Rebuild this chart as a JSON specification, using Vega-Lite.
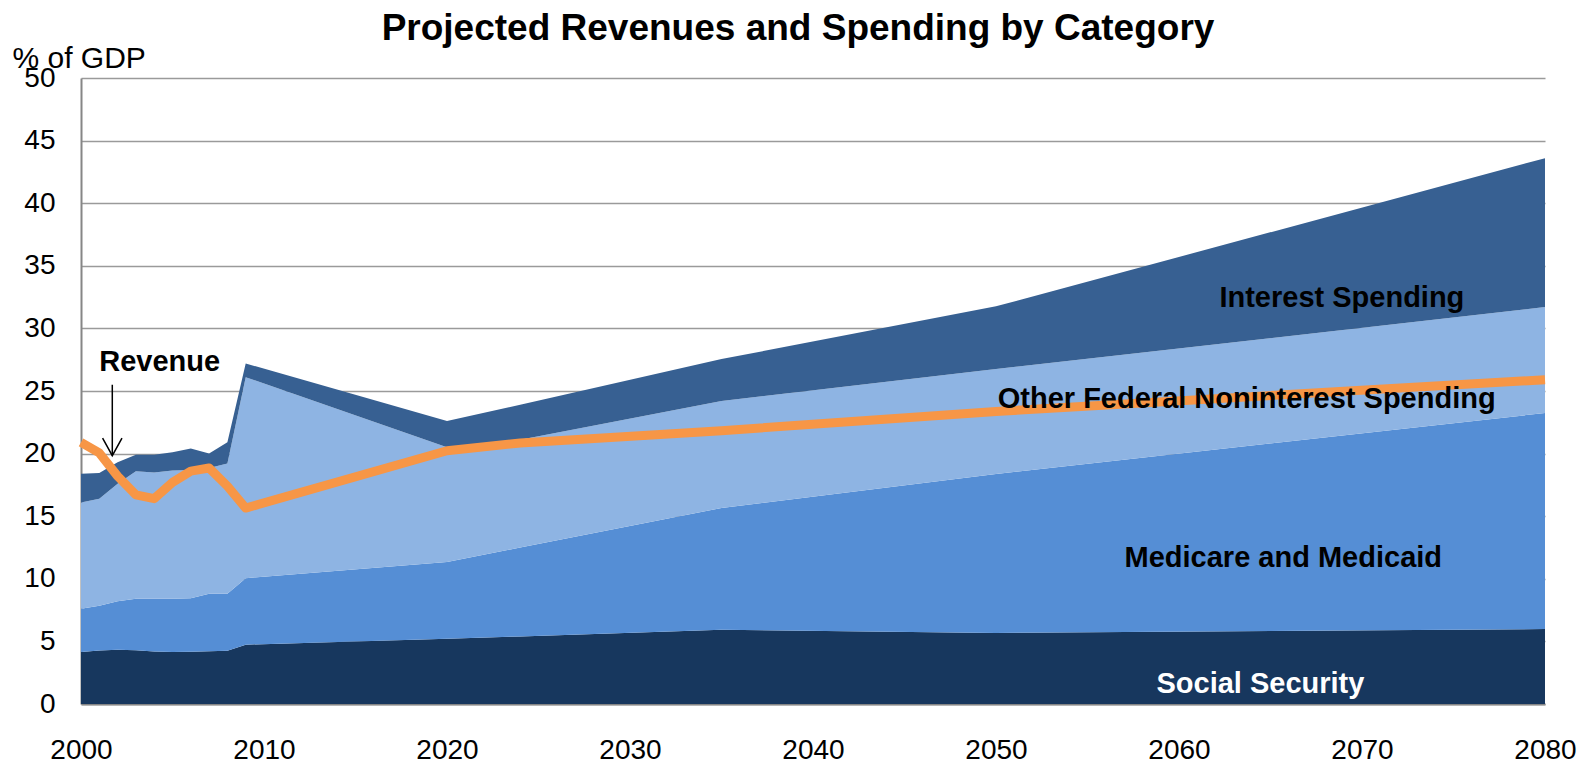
{
  "$schema": "https://vega.github.io/schema/vega-lite/v6.json",
  "width": 1464,
  "height": 626,
  "autosize": {"type": "none"},
  "padding": {"left": 81, "top": 78, "right": 45, "bottom": 58},
  "background": "white",
  "config": {"font": "Liberation Sans", "view": {"stroke": null}},
  "title": {"text": "Projected Revenues and Spending by Category", "fontSize": 37, "fontWeight": "bold", "font": "Liberation Sans", "color": "black", "anchor": "middle", "dx": -15, "offset": -5},
  "datasets": {
    "spending": [
      {"year": 2000, "category": "Social Security", "rank": 1, "value": 4.15},
      {"year": 2001, "category": "Social Security", "rank": 1, "value": 4.28},
      {"year": 2002, "category": "Social Security", "rank": 1, "value": 4.34},
      {"year": 2003, "category": "Social Security", "rank": 1, "value": 4.3},
      {"year": 2004, "category": "Social Security", "rank": 1, "value": 4.2},
      {"year": 2005, "category": "Social Security", "rank": 1, "value": 4.15},
      {"year": 2006, "category": "Social Security", "rank": 1, "value": 4.17},
      {"year": 2007, "category": "Social Security", "rank": 1, "value": 4.22},
      {"year": 2008, "category": "Social Security", "rank": 1, "value": 4.26},
      {"year": 2009, "category": "Social Security", "rank": 1, "value": 4.74},
      {"year": 2020, "category": "Social Security", "rank": 1, "value": 5.21},
      {"year": 2024, "category": "Social Security", "rank": 1, "value": 5.4},
      {"year": 2035, "category": "Social Security", "rank": 1, "value": 5.93},
      {"year": 2050, "category": "Social Security", "rank": 1, "value": 5.67},
      {"year": 2080, "category": "Social Security", "rank": 1, "value": 5.99},
      {"year": 2000, "category": "Medicare and Medicaid", "rank": 2, "value": 3.45},
      {"year": 2001, "category": "Medicare and Medicaid", "rank": 2, "value": 3.57},
      {"year": 2002, "category": "Medicare and Medicaid", "rank": 2, "value": 3.86},
      {"year": 2003, "category": "Medicare and Medicaid", "rank": 2, "value": 4.1},
      {"year": 2004, "category": "Medicare and Medicaid", "rank": 2, "value": 4.2},
      {"year": 2005, "category": "Medicare and Medicaid", "rank": 2, "value": 4.25},
      {"year": 2006, "category": "Medicare and Medicaid", "rank": 2, "value": 4.28},
      {"year": 2007, "category": "Medicare and Medicaid", "rank": 2, "value": 4.58},
      {"year": 2008, "category": "Medicare and Medicaid", "rank": 2, "value": 4.54},
      {"year": 2009, "category": "Medicare and Medicaid", "rank": 2, "value": 5.31},
      {"year": 2020, "category": "Medicare and Medicaid", "rank": 2, "value": 6.14},
      {"year": 2024, "category": "Medicare and Medicaid", "rank": 2, "value": 7.1},
      {"year": 2035, "category": "Medicare and Medicaid", "rank": 2, "value": 9.72},
      {"year": 2050, "category": "Medicare and Medicaid", "rank": 2, "value": 12.7},
      {"year": 2080, "category": "Medicare and Medicaid", "rank": 2, "value": 17.25},
      {"year": 2000, "category": "Other Federal Noninterest Spending", "rank": 3, "value": 8.5},
      {"year": 2001, "category": "Other Federal Noninterest Spending", "rank": 3, "value": 8.55},
      {"year": 2002, "category": "Other Federal Noninterest Spending", "rank": 3, "value": 9.4},
      {"year": 2003, "category": "Other Federal Noninterest Spending", "rank": 3, "value": 10.2},
      {"year": 2004, "category": "Other Federal Noninterest Spending", "rank": 3, "value": 10.1},
      {"year": 2005, "category": "Other Federal Noninterest Spending", "rank": 3, "value": 10.25},
      {"year": 2006, "category": "Other Federal Noninterest Spending", "rank": 3, "value": 10.25},
      {"year": 2007, "category": "Other Federal Noninterest Spending", "rank": 3, "value": 10.05},
      {"year": 2008, "category": "Other Federal Noninterest Spending", "rank": 3, "value": 10.4},
      {"year": 2009, "category": "Other Federal Noninterest Spending", "rank": 3, "value": 16.05},
      {"year": 2020, "category": "Other Federal Noninterest Spending", "rank": 3, "value": 9.15},
      {"year": 2024, "category": "Other Federal Noninterest Spending", "rank": 3, "value": 8.6},
      {"year": 2035, "category": "Other Federal Noninterest Spending", "rank": 3, "value": 8.55},
      {"year": 2050, "category": "Other Federal Noninterest Spending", "rank": 3, "value": 8.38},
      {"year": 2080, "category": "Other Federal Noninterest Spending", "rank": 3, "value": 8.46},
      {"year": 2000, "category": "Interest Spending", "rank": 4, "value": 2.3},
      {"year": 2001, "category": "Interest Spending", "rank": 4, "value": 2.05},
      {"year": 2002, "category": "Interest Spending", "rank": 4, "value": 1.7},
      {"year": 2003, "category": "Interest Spending", "rank": 4, "value": 1.3},
      {"year": 2004, "category": "Interest Spending", "rank": 4, "value": 1.4},
      {"year": 2005, "category": "Interest Spending", "rank": 4, "value": 1.45},
      {"year": 2006, "category": "Interest Spending", "rank": 4, "value": 1.7},
      {"year": 2007, "category": "Interest Spending", "rank": 4, "value": 1.15},
      {"year": 2008, "category": "Interest Spending", "rank": 4, "value": 1.7},
      {"year": 2009, "category": "Interest Spending", "rank": 4, "value": 1.1},
      {"year": 2020, "category": "Interest Spending", "rank": 4, "value": 2.1},
      {"year": 2024, "category": "Interest Spending", "rank": 4, "value": 2.8},
      {"year": 2035, "category": "Interest Spending", "rank": 4, "value": 3.35},
      {"year": 2050, "category": "Interest Spending", "rank": 4, "value": 5.01},
      {"year": 2080, "category": "Interest Spending", "rank": 4, "value": 11.9}
    ],
    "revenue": [
      {"year": 2000, "revenue": 20.9},
      {"year": 2001, "revenue": 20.05},
      {"year": 2002, "revenue": 18.2},
      {"year": 2003, "revenue": 16.7},
      {"year": 2004, "revenue": 16.4},
      {"year": 2005, "revenue": 17.7},
      {"year": 2006, "revenue": 18.6},
      {"year": 2007, "revenue": 18.85},
      {"year": 2008, "revenue": 17.4},
      {"year": 2009, "revenue": 15.65},
      {"year": 2020, "revenue": 20.23},
      {"year": 2024, "revenue": 20.85},
      {"year": 2035, "revenue": 21.83},
      {"year": 2050, "revenue": 23.37},
      {"year": 2080, "revenue": 25.9}
    ],
    "labels": [
      {"label": "Interest Spending", "year": 2068.9, "value": 31.67, "tone": "dark"},
      {"label": "Other Federal Noninterest Spending", "year": 2063.7, "value": 23.67, "tone": "dark"},
      {"label": "Medicare and Medicaid", "year": 2065.7, "value": 10.97, "tone": "dark"},
      {"label": "Social Security", "year": 2064.45, "value": 0.9, "tone": "light"},
      {"label": "Revenue", "year": 2004.3, "value": 26.56, "tone": "dark"}
    ],
    "arrow": [
      {"year": 2001.71, "from": 25.5, "to": 19.83}
    ]
  },
  "layer": [
    {
      "data": {"name": "spending"},
      "mark": {"type": "area", "interpolate": "linear"},
      "encoding": {
        "x": {"field": "year", "type": "quantitative", "scale": {"domain": [2000, 2080], "nice": false, "zero": false},
          "axis": {"title": null, "values": [2000, 2010, 2020, 2030, 2040, 2050, 2060, 2070, 2080], "format": "d", "labelFontSize": 28, "labelColor": "black", "labelPadding": 32, "ticks": false, "grid": false, "domainColor": "#868686", "domainWidth": 2, "labelFlush": false}},
        "y": {"field": "value", "type": "quantitative", "stack": "zero", "scale": {"domain": [0, 50], "nice": false},
          "axis": {"title": "% of GDP", "titleAngle": 0, "titleAlign": "left", "titleBaseline": "alphabetic", "titleX": -69, "titleY": -11, "titleFontSize": 30, "titleFontWeight": "normal", "titleColor": "black", "values": [0, 5, 10, 15, 20, 25, 30, 35, 40, 45, 50], "labelFontSize": 28, "labelColor": "black", "labelPadding": 26, "ticks": false, "domainColor": "#868686", "domainWidth": 2, "gridColor": "#9a9a9a", "gridWidth": 1.5}},
        "color": {"field": "category", "type": "nominal", "legend": null,
          "scale": {"domain": ["Social Security", "Medicare and Medicaid", "Other Federal Noninterest Spending", "Interest Spending"], "range": ["#17375E", "#558ED5", "#8EB4E3", "#376092"]}},
        "order": {"field": "rank", "type": "quantitative"}
      }
    },
    {
      "data": {"name": "revenue"},
      "mark": {"type": "line", "color": "#F79646", "strokeWidth": 9, "strokeJoin": "round"},
      "encoding": {
        "x": {"field": "year", "type": "quantitative", "scale": {"domain": [2000, 2080], "nice": false, "zero": false}},
        "y": {"field": "revenue", "type": "quantitative", "scale": {"domain": [0, 50], "nice": false}}
      }
    },
    {
      "data": {"name": "arrow"},
      "mark": {"type": "rule", "color": "black", "strokeWidth": 1.5},
      "encoding": {
        "x": {"field": "year", "type": "quantitative", "scale": {"domain": [2000, 2080], "nice": false, "zero": false}},
        "y": {"field": "from", "type": "quantitative", "scale": {"domain": [0, 50], "nice": false}},
        "y2": {"field": "to"}
      }
    },
    {
      "data": {"name": "arrow"},
      "mark": {"type": "point", "shape": "M-1,-1.82L0,0L1,-1.82", "size": 376, "filled": false, "stroke": "black", "strokeWidth": 1.5, "opacity": 1},
      "encoding": {
        "x": {"field": "year", "type": "quantitative", "scale": {"domain": [2000, 2080], "nice": false, "zero": false}},
        "y": {"field": "to", "type": "quantitative", "scale": {"domain": [0, 50], "nice": false}}
      }
    },
    {
      "data": {"name": "labels"},
      "mark": {"type": "text", "fontSize": 29, "fontWeight": "bold", "align": "center", "baseline": "alphabetic"},
      "encoding": {
        "x": {"field": "year", "type": "quantitative", "scale": {"domain": [2000, 2080], "nice": false, "zero": false}},
        "y": {"field": "value", "type": "quantitative", "scale": {"domain": [0, 50], "nice": false}},
        "text": {"field": "label"},
        "color": {"field": "tone", "type": "nominal", "legend": null, "scale": {"domain": ["dark", "light"], "range": ["black", "white"]}}
      }
    }
  ],
  "resolve": {"scale": {"color": "independent"}}
}
